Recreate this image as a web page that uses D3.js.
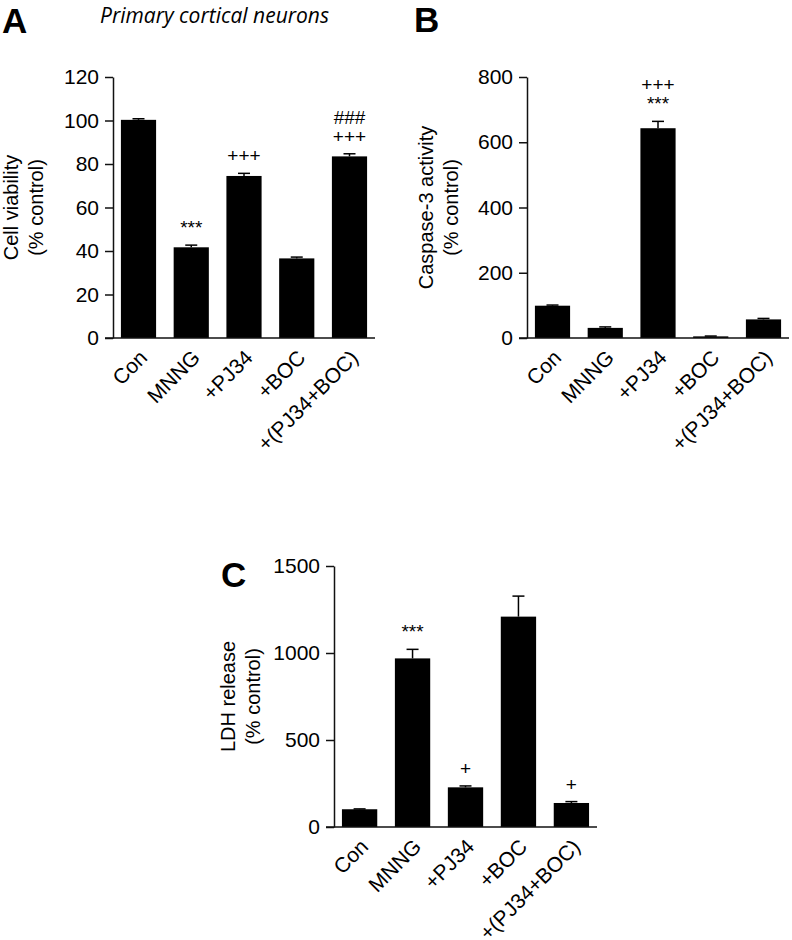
<!DOCTYPE html>
<html lang="en">
<head>
<meta charset="utf-8">
<title>Primary cortical neurons</title>
<script src="https://d3js.org/d3.v7.min.js"></script>
<style>
  body { margin: 0; background: #fff; }
  svg { display: block; font-family: "Liberation Sans", Arial, sans-serif; }
  .axis path, .axis line { stroke: #111; stroke-width: 1.5; }
  .axis text { font-family: "Liberation Sans", Arial, sans-serif; font-size: 21px; fill: #000; }
  .bar { fill: #000; }
  .err { stroke: #000; stroke-width: 1.5; }
  .mark { font-size: 19px; text-anchor: middle; fill: #000; }
  .ylab { font-size: 20px; text-anchor: middle; fill: #000; }
  .letter { font-size: 35px; font-weight: bold; fill: #000; }
  .title { font-family: "Open Sans", sans-serif; font-style: italic; font-size: 21px; fill: #000; }
</style>
</head>
<body>
<svg width="792" height="940"></svg>
<script>

// groups, same for all three panels
var categories = ["Con", "MNNG", "+PJ34", "+BOC", "+(PJ34+BOC)"];

// A - cell viability
var viability    = [100.3, 41.7, 74.5, 36.6, 83.5];
var viabilityErr = [0.5, 1, 1.2, 0.6, 1.2];
var viabilityMarks = [[], ["***"], ["+++"], [], ["###", "+++"]];
var viabilityTicks = [0, 20, 40, 60, 80, 100, 120];

// B - caspase-3 activity
var caspase    = [99, 31, 643, 5, 57];
var caspaseErr = [2, 3, 21, 1, 3];
var caspaseMarks = [[], [], ["+++", "***"], [], []];
var caspaseTicks = [0, 200, 400, 600, 800];

// C - LDH release
var ldh    = [102, 969, 228, 1209, 138];
var ldhErr = [2, 52, 8, 118, 8];
var ldhMarks = [[], ["***"], ["+"], [], ["+"]];
var ldhTicks = [0, 500, 1000, 1500];

var svg = d3.select("svg");

svg.append("text")
    .attr("class", "title")
    .attr("x", 100)
    .attr("y", 23)
    .text("Primary cortical neurons");

function panel(opt) {
  var g = svg.append("g");

  var x = d3.scaleBand()
      .domain(categories)
      .range([opt.left, opt.right])
      .paddingInner(0.333)
      .paddingOuter(0.15);

  var ticks = opt.ticks;
  var y = d3.scaleLinear()
      .domain([0, ticks[ticks.length - 1]])
      .range([opt.bottom, opt.top]);

  var data = categories.map(function(c, i) {
    return {name: c, value: opt.values[i], err: opt.errs[i], marks: opt.marks[i]};
  });

  // bars
  g.selectAll(".bar")
    .data(data)
    .enter().append("rect")
      .attr("class", "bar")
      .attr("x", function(d) { return x(d.name); })
      .attr("y", function(d) { return y(d.value); })
      .attr("width", x.bandwidth())
      .attr("height", function(d) { return y(0) - y(d.value); });

  // upper error bars
  var eb = g.selectAll(".eb").data(data).enter().append("g");
  eb.append("line")
      .attr("class", "err")
      .attr("x1", function(d) { return x(d.name) + x.bandwidth() / 2; })
      .attr("x2", function(d) { return x(d.name) + x.bandwidth() / 2; })
      .attr("y1", function(d) { return y(d.value); })
      .attr("y2", function(d) { return y(d.value + d.err); });
  eb.append("line")
      .attr("class", "err")
      .attr("x1", function(d) { return x(d.name) + x.bandwidth() / 2 - 6; })
      .attr("x2", function(d) { return x(d.name) + x.bandwidth() / 2 + 6; })
      .attr("y1", function(d) { return y(d.value + d.err); })
      .attr("y2", function(d) { return y(d.value + d.err); });

  // significance marks, listed top to bottom
  data.forEach(function(d) {
    var n = d.marks.length;
    d.marks.forEach(function(m, j) {
      g.append("text")
          .attr("class", "mark")
          .attr("x", x(d.name) + x.bandwidth() / 2)
          .attr("y", y(d.value + d.err) - 11 - (n - 1 - j) * 19)
          .text(m);
    });
  });

  // y axis
  g.append("g")
      .attr("class", "axis")
      .attr("transform", "translate(" + opt.left + ",0)")
      .call(d3.axisLeft(y).tickValues(ticks).tickFormat(d3.format("d"))
              .tickSize(8).tickSizeOuter(0).tickPadding(6));

  // x axis: baseline + rotated labels
  g.append("line")
      .attr("class", "err")
      .style("stroke", "#111")
      .attr("x1", opt.left - 8)
      .attr("x2", opt.right)
      .attr("y1", y(0))
      .attr("y2", y(0));

  var xa = g.append("g")
      .attr("class", "axis")
      .attr("transform", "translate(0," + y(0) + ")")
      .call(d3.axisBottom(x).tickSize(0));
  xa.select(".domain").remove();
  xa.selectAll("text")
      .attr("x", 0).attr("y", 0).attr("dy", 0)
      .attr("text-anchor", "end")
      .attr("transform", "translate(10,21) rotate(-45)");

  // y label, two lines
  var cy = (opt.top + opt.bottom) / 2;
  opt.label.forEach(function(t, i) {
    var lx = opt.left - opt.labelOff + i * 25;
    g.append("text")
        .attr("class", "ylab")
        .attr("transform", "translate(" + lx + "," + cy + ") rotate(-90)")
        .text(t);
  });

  g.append("text")
      .attr("class", "letter")
      .attr("x", opt.letterX)
      .attr("y", opt.letterY)
      .text(opt.letter);
}

panel({letter: "A", letterX: 2, letterY: 33,
       left: 113, right: 375, top: 77, bottom: 338, labelOff: 95,
       ticks: viabilityTicks, values: viability, errs: viabilityErr, marks: viabilityMarks,
       label: ["Cell viability", "(% control)"]});

panel({letter: "B", letterX: 414, letterY: 32,
       left: 527, right: 789, top: 77, bottom: 338, labelOff: 94,
       ticks: caspaseTicks, values: caspase, errs: caspaseErr, marks: caspaseMarks,
       label: ["Caspase-3 activity", "(% control)"]});

panel({letter: "C", letterX: 221, letterY: 587,
       left: 334, right: 597, top: 566, bottom: 827, labelOff: 99,
       ticks: ldhTicks, values: ldh, errs: ldhErr, marks: ldhMarks,
       label: ["LDH release", "(% control)"]});

</script>
</body>
</html>
